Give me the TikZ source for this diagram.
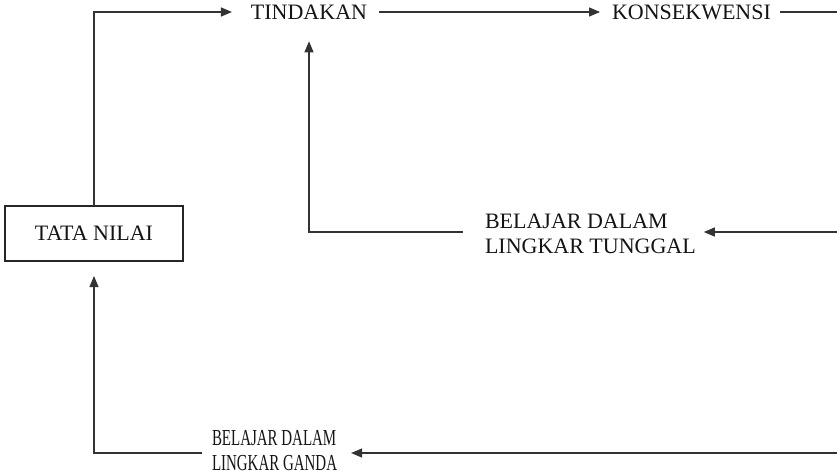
\documentclass[tikz,border=0pt]{standalone}
\usepackage{fontspec}
\setmainfont{Liberation Serif}
\usetikzlibrary{arrows.meta}
\begin{document}
\begin{tikzpicture}[x=1pt,y=-1pt,
  every node/.style={inner sep=0pt,outer sep=0pt,text=black!92,
    font=\fontsize{22pt}{24.5pt}\selectfont},
  label/.style={align=left},
  valuebox/.style={draw=black!85,line width=1.1pt,minimum width=178pt,minimum height=55pt},
  link/.style={draw=black!80,line width=1.1pt},
  tip/.style={link,-{Triangle[length=11pt,width=9pt]}}]
\useasboundingbox (0,0) rectangle (837,475);
% nodes
\node[valuebox] (tata) at (94,233.5) {TATA NILAI};
\node (tindakan) at (309,12) {TINDAKAN};
\node (konsek) at (691.5,12) {KONSEKWENSI};
\node[label,anchor=west] (tunggal) at (485,234) {BELAJAR DALAM\\LINGKAR TUNGGAL};
\node[anchor=west] (ganda) at (212,453)
  {\scalebox{0.68}[1.04]{\begin{tabular}{@{}l@{}}BELAJAR DALAM\\LINGKAR GANDA\end{tabular}}};
% free ends at the right margin
\coordinate (r1) at (837,12);
\coordinate (r2) at (837,232);
\coordinate (r3) at (837,453);
% single loop
\draw[tip,shorten >=19pt] (tata.north) |- (tindakan.west);
\draw[tip,shorten <=12pt,shorten >=12pt] (tindakan.east) -- (konsek.west);
\draw[link,shorten <=9pt] (konsek.east) -- (r1);
\draw[tip,shorten >=8pt] (r2) -- (tunggal.east |- r2);
\draw[tip,shorten <=22pt,shorten >=22pt] (tunggal.west |- r2) -| (tindakan.south);
% double loop
\draw[tip,shorten >=14pt] (r3) -- (ganda.east);
\draw[tip,shorten <=10pt,shorten >=15pt] (ganda.west) -| (tata.south);
\end{tikzpicture}
\end{document}
